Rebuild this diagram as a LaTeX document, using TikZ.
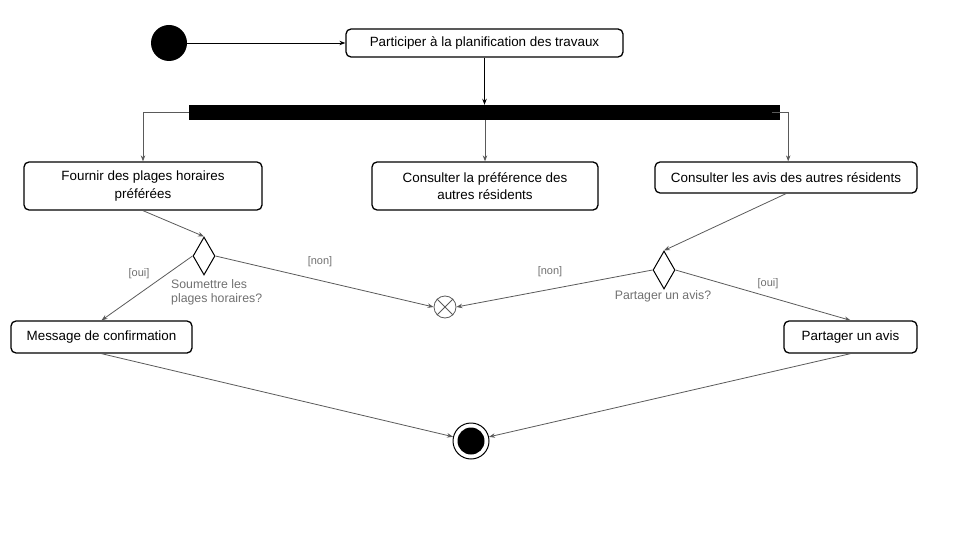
\documentclass[tikz,border=0pt]{standalone}
\usepackage{fontspec}
\setmainfont{Liberation Sans}
\usetikzlibrary{shapes.geometric,arrows.meta}
\definecolor{edgegray}{HTML}{5A5A5A}
\definecolor{labelgray}{HTML}{707070}
\begin{document}
\begin{tikzpicture}[x=1pt,y=-1pt,
  act/.style={draw=black, line width=1.3pt, rounded corners=5pt, inner sep=0pt,
    align=center, font=\fontsize{13.4}{17.5}\selectfont},
  flow/.style={draw=edgegray, line width=0.8pt, -{Stealth[length=6pt,width=4.5pt]}},
  mainflow/.style={draw=black, line width=0.9pt, -{Stealth[length=6pt,width=4.5pt]}},
  decision/.style={diamond, draw=black, line width=1pt, inner sep=0pt,
    minimum width=22pt, minimum height=38pt},
  guard/.style={text=labelgray, font=\fontsize{11}{13}\selectfont, inner sep=1pt},
  question/.style={text=labelgray, font=\fontsize{12.3}{14}\selectfont, inner sep=1pt, align=left}
]
\useasboundingbox (0,0) rectangle (960,540);

% initial node and first action
\node[circle, fill=black, minimum size=36pt, inner sep=0pt] (start) at (169,43) {};
\node[act, minimum width=277pt, minimum height=28pt] (plan) at (484.5,43)
  {Participer à la planification des travaux};

% fork bar
\node[fill=black, minimum width=591pt, minimum height=15pt, inner sep=0pt] (fork) at (484.5,112.5) {};

% parallel actions
\node[act, minimum width=238pt, minimum height=48pt] (fournir) at (143,186)
  {Fournir des plages horaires\\préférées};
\node[act, minimum width=226pt, minimum height=48pt] (pref) at (485,186)
  {Consulter la préférence des\\autres résidents};
\node[act, minimum width=262pt, minimum height=31pt] (avis) at (786,177.5)
  {Consulter les avis des autres résidents};

% decisions
\node[decision] (d1) at (204,256) {};
\node[decision] (d2) at (664,270) {};

% flow final
\node[circle, draw=edgegray, line width=0.8pt, minimum size=22pt, inner sep=0pt] (ff) at (445,307) {};
\draw[edgegray, line width=0.8pt] (ff.north west) -- (ff.south east) (ff.north east) -- (ff.south west);

% outcome actions
\node[act, minimum width=181pt, minimum height=32pt] (confirm) at (101.5,337)
  {Message de confirmation};
\node[act, minimum width=133pt, minimum height=32pt] (partager) at (850.5,337)
  {Partager un avis};

% activity final
\node[circle, draw=black, line width=1pt, minimum size=36pt, inner sep=0pt] (end) at (471,441) {};
\fill[black] (end.center) circle[radius=13.5pt];

% connectors
\draw[mainflow] (start.east) -- (plan.west);
\draw[mainflow] (plan.south) -- (plan.south |- fork.north);
\draw[flow] (fork.west) -| (fournir.north);
\draw[flow] (fork.south -| pref.north) -- (pref.north);
\draw[flow] ([xshift=-8pt]fork.east) -- ([xshift=8pt]fork.east) -- ([xshift=8pt]fork.east |- avis.north);

\draw[flow] (fournir.south) -- (d1.north);
\draw[flow] (avis.south) -- (d2.north);

\draw[flow] (d1.west) -- (confirm.north);
\draw[flow] (d1.east) -- (ff.west);
\draw[flow] (d2.west) -- (ff.east);
\draw[flow] (d2.east) -- (partager.north);

\draw[flow] (confirm.south) -- (end);
\draw[flow] (partager.south) -- (end);

% guards and decision labels
\node[guard] (g1) at (139,274) {[oui]};
\node[guard] (g2) at (320,262) {[non]};
\node[guard] (g3) at (550,272) {[non]};
\node[guard] (g4) at (768,284) {[oui]};
\node[question, anchor=north west] (q1) at (170,278.5) {Soumettre les\\plages horaires?};
\node[question] (q2) at (663,296.5) {Partager un avis?};
\end{tikzpicture}
\end{document}
